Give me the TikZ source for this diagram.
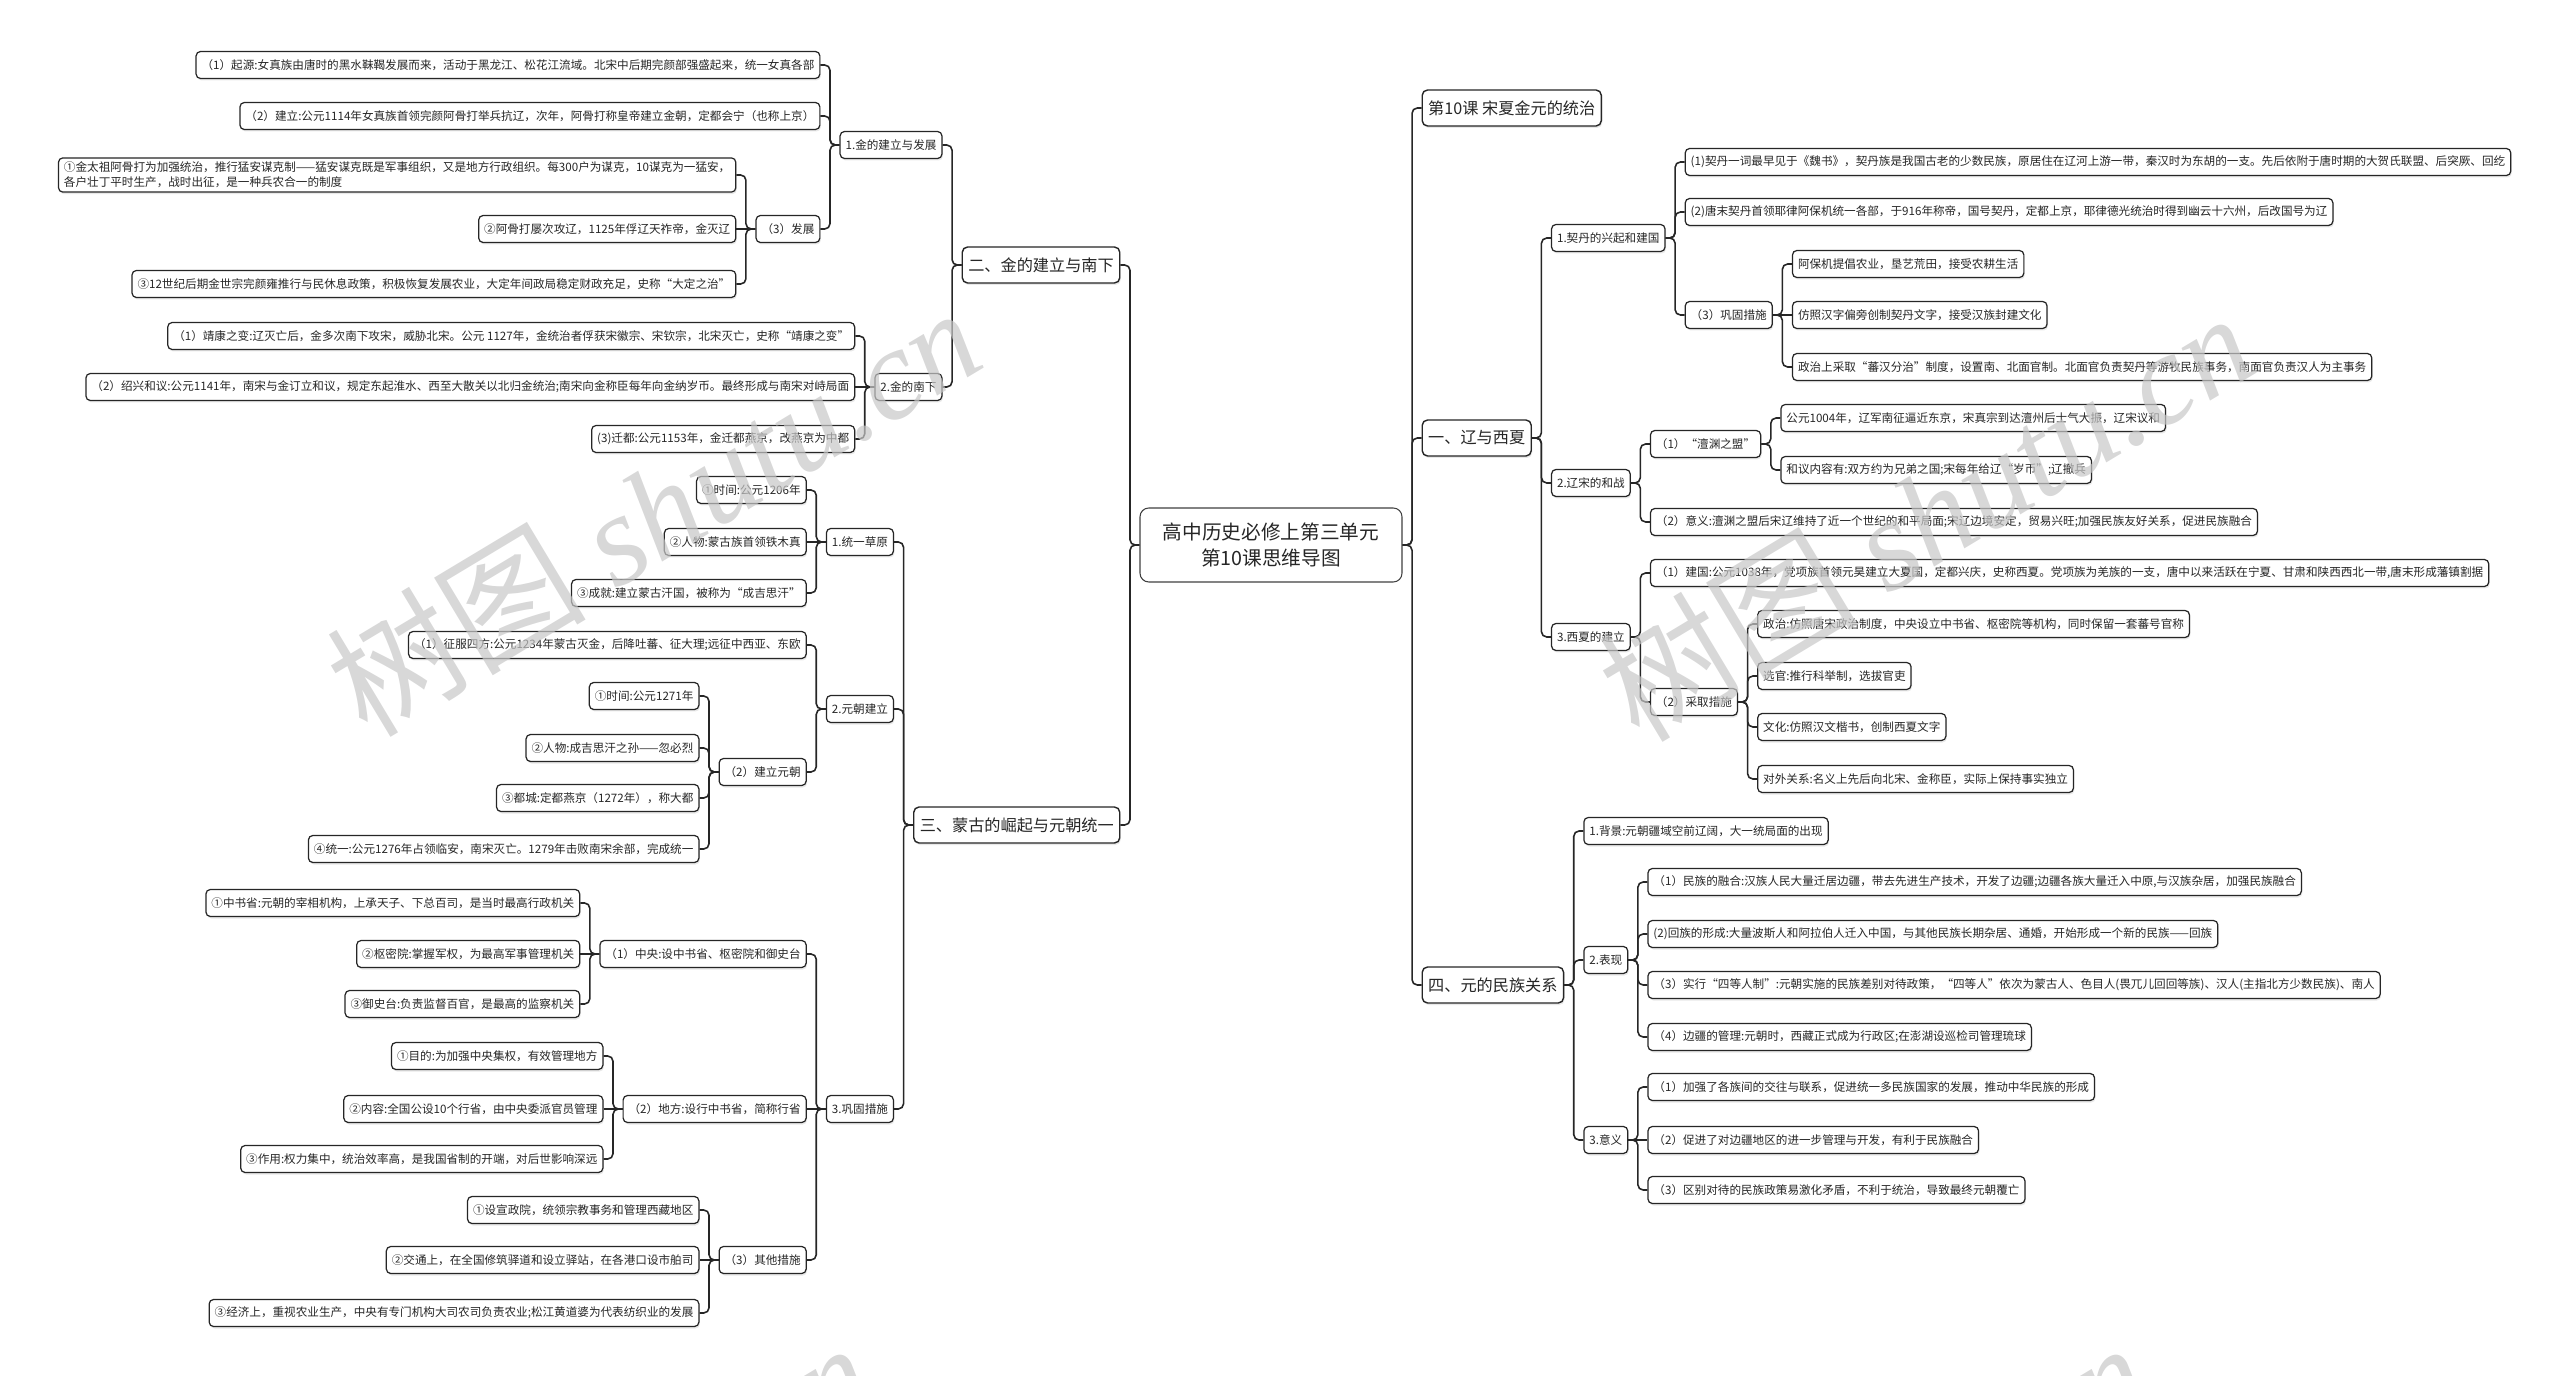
\documentclass[tikz,border=0pt]{standalone}
\usepackage{fontspec}
\setmainfont{Noto Sans CJK SC}
\newfontfamily\wmlatin{Liberation Serif}
\usepackage{tikz}
\usetikzlibrary{positioning, shadows}

\begin{document}
\begin{tikzpicture}[
  node distance=0.38cm,
  root/.style={draw=black!75, rounded corners=5pt, line width=0.6pt, fill=white, minimum width=5.24cm, minimum height=1.48cm, align=center, font=\fontsize{11.2}{14.5}\selectfont, text=black!85},
  topic/.style={draw=black!85, rounded corners=3pt, line width=0.8pt, fill=white, drop shadow={opacity=0.18, shadow xshift=0.02cm, shadow yshift=-0.04cm}, minimum height=0.72cm, inner xsep=0.12cm, font=\fontsize{9.2}{11}\selectfont, text=black!85},
  leaf/.style={draw=black!85, rounded corners=2.5pt, line width=0.7pt, fill=white, drop shadow={opacity=0.18, shadow xshift=0.02cm, shadow yshift=-0.04cm}, minimum height=0.54cm, inner xsep=0.11cm, inner ysep=0.08cm, align=left, font=\fontsize{6.6}{8.6}\selectfont, text=black!85},
  link/.style={draw=black!85, line width=0.9pt, rounded corners=3pt},
  wmark/.style={text=black!22, text opacity=0.7, rotate=31, font=\fontsize{74}{74}\selectfont}
]
  \useasboundingbox (0,0) rectangle (51.2,-27.52);

  \node[root] (root) at (25.42,-10.9) {高中历史必修上第三单元\\第10课思维导图};

  % left half
  \node[topic, left=of root, yshift=5.6cm] (gold) {二、金的建立与南下};
  \node[topic, left=of root, yshift=-5.6cm] (mongol) {三、蒙古的崛起与元朝统一};

  \node[leaf, left=of gold, yshift=2.4cm] (jin1) {1.金的建立与发展};
  \node[leaf, left=of gold, yshift=-2.44cm] (jin2) {2.金的南下};

  \node[leaf, left=of jin1, yshift=1.6cm] (jin1a) {（1）起源:女真族由唐时的黑水靺鞨发展而来，活动于黑龙江、松花江流域。北宋中后期完颜部强盛起来，统一女真各部};
  \node[leaf, left=of jin1, yshift=0.58cm] (jin1b) {（2）建立:公元1114年女真族首领完颜阿骨打举兵抗辽，次年，阿骨打称皇帝建立金朝，定都会宁（也称上京）};
  \node[leaf, left=of jin1, yshift=-1.68cm] (jin1c) {（3）发展};

  \node[leaf, left=of jin1c, yshift=1.08cm] (jin1c1) {①金太祖阿骨打为加强统治，推行猛安谋克制——猛安谋克既是军事组织，又是地方行政组织。每300户为谋克，10谋克为一猛安，\\各户壮丁平时生产，战时出征，是一种兵农合一的制度};
  \node[leaf, left=of jin1c] (jin1c2) {②阿骨打屡次攻辽，1125年俘辽天祚帝，金灭辽};
  \node[leaf, left=of jin1c, yshift=-1.1cm] (jin1c3) {③12世纪后期金世宗完颜雍推行与民休息政策，积极恢复发展农业，大定年间政局稳定财政充足，史称“大定之治”};

  \node[leaf, left=of jin2, yshift=1.02cm] (jin2a) {（1）靖康之变:辽灭亡后，金多次南下攻宋，威胁北宋。公元 1127年，金统治者俘获宋徽宗、宋钦宗，北宋灭亡，史称“靖康之变”};
  \node[leaf, left=of jin2] (jin2b) {（2）绍兴和议:公元1141年，南宋与金订立和议，规定东起淮水、西至大散关以北归金统治;南宋向金称臣每年向金纳岁币。最终形成与南宋对峙局面};
  \node[leaf, left=of jin2, yshift=-1.04cm] (jin2c) {(3)迁都:公元1153年，金迁都燕京，改燕京为中都};

  \node[leaf, left=of mongol, yshift=5.66cm] (mon1) {1.统一草原};
  \node[leaf, left=of mongol, yshift=2.32cm] (mon2) {2.元朝建立};
  \node[leaf, left=of mongol, yshift=-5.68cm] (mon3) {3.巩固措施};

  \node[leaf, left=of mon1, yshift=1.04cm] (mon1a) {①时间:公元1206年};
  \node[leaf, left=of mon1] (mon1b) {②人物:蒙古族首领铁木真};
  \node[leaf, left=of mon1, yshift=-1.02cm] (mon1c) {③成就:建立蒙古汗国，被称为“成吉思汗”};

  \node[leaf, left=of mon2, yshift=1.28cm] (mon2a) {（1）征服四方:公元1234年蒙古灭金，后降吐蕃、征大理;远征中西亚、东欧};
  \node[leaf, left=of mon2, yshift=-1.26cm] (mon2b) {（2）建立元朝};

  \node[leaf, left=of mon2b, yshift=1.52cm] (mon2b1) {①时间:公元1271年};
  \node[leaf, left=of mon2b, yshift=0.48cm] (mon2b2) {②人物:成吉思汗之孙——忽必烈};
  \node[leaf, left=of mon2b, yshift=-0.52cm] (mon2b3) {③都城:定都燕京（1272年），称大都};
  \node[leaf, left=of mon2b, yshift=-1.54cm] (mon2b4) {④统一:公元1276年占领临安，南宋灭亡。1279年击败南宋余部，完成统一};

  \node[leaf, left=of mon3, yshift=3.1cm] (mon3a) {（1）中央:设中书省、枢密院和御史台};
  \node[leaf, left=of mon3] (mon3b) {（2）地方:设行中书省，简称行省};
  \node[leaf, left=of mon3, yshift=-3.02cm] (mon3c) {（3）其他措施};

  \node[leaf, left=of mon3a, yshift=1.02cm] (mon3a1) {①中书省:元朝的宰相机构，上承天子、下总百司，是当时最高行政机关};
  \node[leaf, left=of mon3a] (mon3a2) {②枢密院:掌握军权，为最高军事管理机关};
  \node[leaf, left=of mon3a, yshift=-1.0cm] (mon3a3) {③御史台:负责监督百官，是最高的监察机关};

  \node[leaf, left=of mon3b, yshift=1.06cm] (mon3b1) {①目的:为加强中央集权，有效管理地方};
  \node[leaf, left=of mon3b] (mon3b2) {②内容:全国公设10个行省，由中央委派官员管理};
  \node[leaf, left=of mon3b, yshift=-1.0cm] (mon3b3) {③作用:权力集中，统治效率高，是我国省制的开端，对后世影响深远};

  \node[leaf, left=of mon3c, yshift=1.0cm] (mon3c1) {①设宣政院，统领宗教事务和管理西藏地区};
  \node[leaf, left=of mon3c] (mon3c2) {②交通上，在全国修筑驿道和设立驿站，在各港口设市舶司};
  \node[leaf, left=of mon3c, yshift=-1.06cm] (mon3c3) {③经济上，重视农业生产，中央有专门机构大司农司负责农业;松江黄道婆为代表纺织业的发展};

  % right half
  \node[topic, right=of root, yshift=8.74cm] (lesson) {第10课~宋夏金元的统治};
  \node[topic, right=of root, yshift=2.14cm] (liao) {一、辽与西夏};
  \node[topic, right=of root, yshift=-8.8cm] (yuan) {四、元的民族关系};

  \node[leaf, right=of liao, yshift=4.0cm] (qd) {1.契丹的兴起和建国};
  \node[leaf, right=of liao, yshift=-0.9cm] (song) {2.辽宋的和战};
  \node[leaf, right=of liao, yshift=-3.98cm] (xia) {3.西夏的建立};

  \node[leaf, right=of qd, yshift=1.52cm] (qda) {(1)契丹一词最早见于《魏书》，契丹族是我国古老的少数民族，原居住在辽河上游一带，秦汉时为东胡的一支。先后依附于唐时期的大贺氏联盟、后突厥、回纥};
  \node[leaf, right=of qd, yshift=0.52cm] (qdb) {(2)唐末契丹首领耶律阿保机统一各部，于916年称帝，国号契丹，定都上京，耶律德光统治时得到幽云十六州，后改国号为辽};
  \node[leaf, right=of qd, yshift=-1.54cm] (qdc) {（3）巩固措施};

  \node[leaf, right=of qdc, yshift=1.02cm] (qdc1) {阿保机提倡农业，垦艺荒田，接受农耕生活};
  \node[leaf, right=of qdc] (qdc2) {仿照汉字偏旁创制契丹文字，接受汉族封建文化};
  \node[leaf, right=of qdc, yshift=-1.04cm] (qdc3) {政治上采取“蕃汉分治”制度，设置南、北面官制。北面官负责契丹等游牧民族事务，南面官负责汉人为主事务};

  \node[leaf, right=of song, yshift=0.78cm] (songa) {（1）“澶渊之盟”};
  \node[leaf, right=of song, yshift=-0.78cm] (songb) {（2）意义:澶渊之盟后宋辽维持了近一个世纪的和平局面;宋辽边境安定，贸易兴旺;加强民族友好关系，促进民族融合};

  \node[leaf, right=of songa, yshift=0.52cm] (songa1) {公元1004年，辽军南征逼近东京，宋真宗到达澶州后士气大振，辽宋议和};
  \node[leaf, right=of songa, yshift=-0.52cm] (songa2) {和议内容有:双方约为兄弟之国;宋每年给辽“岁币”;辽撤兵};

  \node[leaf, right=of xia, yshift=1.28cm] (xiaa) {（1）建国:公元1038年，党项族首领元昊建立大夏国，定都兴庆，史称西夏。党项族为羌族的一支，唐中以来活跃在宁夏、甘肃和陕西西北一带,唐末形成藩镇割据};
  \node[leaf, right=of xia, yshift=-1.3cm] (xiab) {（2）采取措施};

  \node[leaf, right=of xiab, yshift=1.56cm] (xiab1) {政治:仿照唐宋政治制度，中央设立中书省、枢密院等机构，同时保留一套蕃号官称};
  \node[leaf, right=of xiab, yshift=0.52cm] (xiab2) {选官:推行科举制，选拔官吏};
  \node[leaf, right=of xiab, yshift=-0.5cm] (xiab3) {文化:仿照汉文楷书，创制西夏文字};
  \node[leaf, right=of xiab, yshift=-1.54cm] (xiab4) {对外关系:名义上先后向北宋、金称臣，实际上保持事实独立};

  \node[leaf, right=of yuan, yshift=3.08cm] (mz1) {1.背景:元朝疆域空前辽阔，大一统局面的出现};
  \node[leaf, right=of yuan, yshift=0.5cm] (mz2) {2.表现};
  \node[leaf, right=of yuan, yshift=-3.1cm] (mz3) {3.意义};

  \node[leaf, right=of mz2, yshift=1.56cm] (mz2a) {（1）民族的融合:汉族人民大量迁居边疆，带去先进生产技术，开发了边疆;边疆各族大量迁入中原,与汉族杂居，加强民族融合};
  \node[leaf, right=of mz2, yshift=0.52cm] (mz2b) {(2)回族的形成:大量波斯人和阿拉伯人迁入中国，与其他民族长期杂居、通婚，开始形成一个新的民族——回族};
  \node[leaf, right=of mz2, yshift=-0.5cm] (mz2c) {（3）实行“四等人制”:元朝实施的民族差别对待政策，“四等人”依次为蒙古人、色目人(畏兀儿回回等族)、汉人(主指北方少数民族)、南人};
  \node[leaf, right=of mz2, yshift=-1.54cm] (mz2d) {（4）边疆的管理:元朝时，西藏正式成为行政区;在澎湖设巡检司管理琉球};

  \node[leaf, right=of mz3, yshift=1.06cm] (mz3a) {（1）加强了各族间的交往与联系，促进统一多民族国家的发展，推动中华民族的形成};
  \node[leaf, right=of mz3] (mz3b) {（2）促进了对边疆地区的进一步管理与开发，有利于民族融合};
  \node[leaf, right=of mz3, yshift=-1.0cm] (mz3c) {（3）区别对待的民族政策易激化矛盾，不利于统治，导致最终元朝覆亡};

  % connectors
  \draw[link] (root.west) -- ++(-0.19,0) |- (gold.east);
  \draw[link] (root.west) -- ++(-0.19,0) |- (mongol.east);
  \draw[link] (gold.west) -- ++(-0.19,0) |- (jin1.east);
  \draw[link] (gold.west) -- ++(-0.19,0) |- (jin2.east);
  \draw[link] (jin1.west) -- ++(-0.19,0) |- (jin1a.east);
  \draw[link] (jin1.west) -- ++(-0.19,0) |- (jin1b.east);
  \draw[link] (jin1.west) -- ++(-0.19,0) |- (jin1c.east);
  \draw[link] (jin1c.west) -- ++(-0.19,0) |- (jin1c1.east);
  \draw[link] (jin1c.west) -- (jin1c2.east);
  \draw[link] (jin1c.west) -- ++(-0.19,0) |- (jin1c3.east);
  \draw[link] (jin2.west) -- ++(-0.19,0) |- (jin2a.east);
  \draw[link] (jin2.west) -- (jin2b.east);
  \draw[link] (jin2.west) -- ++(-0.19,0) |- (jin2c.east);
  \draw[link] (mongol.west) -- ++(-0.19,0) |- (mon1.east);
  \draw[link] (mongol.west) -- ++(-0.19,0) |- (mon2.east);
  \draw[link] (mongol.west) -- ++(-0.19,0) |- (mon3.east);
  \draw[link] (mon1.west) -- ++(-0.19,0) |- (mon1a.east);
  \draw[link] (mon1.west) -- (mon1b.east);
  \draw[link] (mon1.west) -- ++(-0.19,0) |- (mon1c.east);
  \draw[link] (mon2.west) -- ++(-0.19,0) |- (mon2a.east);
  \draw[link] (mon2.west) -- ++(-0.19,0) |- (mon2b.east);
  \draw[link] (mon2b.west) -- ++(-0.19,0) |- (mon2b1.east);
  \draw[link] (mon2b.west) -- ++(-0.19,0) |- (mon2b2.east);
  \draw[link] (mon2b.west) -- ++(-0.19,0) |- (mon2b3.east);
  \draw[link] (mon2b.west) -- ++(-0.19,0) |- (mon2b4.east);
  \draw[link] (mon3.west) -- ++(-0.19,0) |- (mon3a.east);
  \draw[link] (mon3.west) -- (mon3b.east);
  \draw[link] (mon3.west) -- ++(-0.19,0) |- (mon3c.east);
  \draw[link] (mon3a.west) -- ++(-0.19,0) |- (mon3a1.east);
  \draw[link] (mon3a.west) -- (mon3a2.east);
  \draw[link] (mon3a.west) -- ++(-0.19,0) |- (mon3a3.east);
  \draw[link] (mon3b.west) -- ++(-0.19,0) |- (mon3b1.east);
  \draw[link] (mon3b.west) -- (mon3b2.east);
  \draw[link] (mon3b.west) -- ++(-0.19,0) |- (mon3b3.east);
  \draw[link] (mon3c.west) -- ++(-0.19,0) |- (mon3c1.east);
  \draw[link] (mon3c.west) -- (mon3c2.east);
  \draw[link] (mon3c.west) -- ++(-0.19,0) |- (mon3c3.east);

  \draw[link] (root.east) -- ++(0.19,0) |- (lesson.west);
  \draw[link] (root.east) -- ++(0.19,0) |- (liao.west);
  \draw[link] (root.east) -- ++(0.19,0) |- (yuan.west);
  \draw[link] (liao.east) -- ++(0.19,0) |- (qd.west);
  \draw[link] (liao.east) -- ++(0.19,0) |- (song.west);
  \draw[link] (liao.east) -- ++(0.19,0) |- (xia.west);
  \draw[link] (qd.east) -- ++(0.19,0) |- (qda.west);
  \draw[link] (qd.east) -- ++(0.19,0) |- (qdb.west);
  \draw[link] (qd.east) -- ++(0.19,0) |- (qdc.west);
  \draw[link] (qdc.east) -- ++(0.19,0) |- (qdc1.west);
  \draw[link] (qdc.east) -- (qdc2.west);
  \draw[link] (qdc.east) -- ++(0.19,0) |- (qdc3.west);
  \draw[link] (song.east) -- ++(0.19,0) |- (songa.west);
  \draw[link] (song.east) -- ++(0.19,0) |- (songb.west);
  \draw[link] (songa.east) -- ++(0.19,0) |- (songa1.west);
  \draw[link] (songa.east) -- ++(0.19,0) |- (songa2.west);
  \draw[link] (xia.east) -- ++(0.19,0) |- (xiaa.west);
  \draw[link] (xia.east) -- ++(0.19,0) |- (xiab.west);
  \draw[link] (xiab.east) -- ++(0.19,0) |- (xiab1.west);
  \draw[link] (xiab.east) -- ++(0.19,0) |- (xiab2.west);
  \draw[link] (xiab.east) -- ++(0.19,0) |- (xiab3.west);
  \draw[link] (xiab.east) -- ++(0.19,0) |- (xiab4.west);
  \draw[link] (yuan.east) -- ++(0.19,0) |- (mz1.west);
  \draw[link] (yuan.east) -- ++(0.19,0) |- (mz2.west);
  \draw[link] (yuan.east) -- ++(0.19,0) |- (mz3.west);
  \draw[link] (mz2.east) -- ++(0.19,0) |- (mz2a.west);
  \draw[link] (mz2.east) -- ++(0.19,0) |- (mz2b.west);
  \draw[link] (mz2.east) -- ++(0.19,0) |- (mz2c.west);
  \draw[link] (mz2.east) -- ++(0.19,0) |- (mz2d.west);
  \draw[link] (mz3.east) -- ++(0.19,0) |- (mz3a.west);
  \draw[link] (mz3.east) -- (mz3b.west);
  \draw[link] (mz3.east) -- ++(0.19,0) |- (mz3c.west);

  % watermark
  \begin{scope}
    \clip (0,0) rectangle (51.2,-27.52);
    \node[wmark] (wm1) at (13.06,-10.2) {树图 {\wmlatin\itshape shutu.cn}};
    \node[wmark] (wm2) at (38.5,-10.3) {树图 {\wmlatin\itshape shutu.cn}};
    \node[wmark] (wm3) at (10.9,-30.9) {树图 {\wmlatin\itshape shutu.cn}};
    \node[wmark] (wm4) at (36.4,-30.9) {树图 {\wmlatin\itshape shutu.cn}};
  \end{scope}
\end{tikzpicture}
\end{document}
